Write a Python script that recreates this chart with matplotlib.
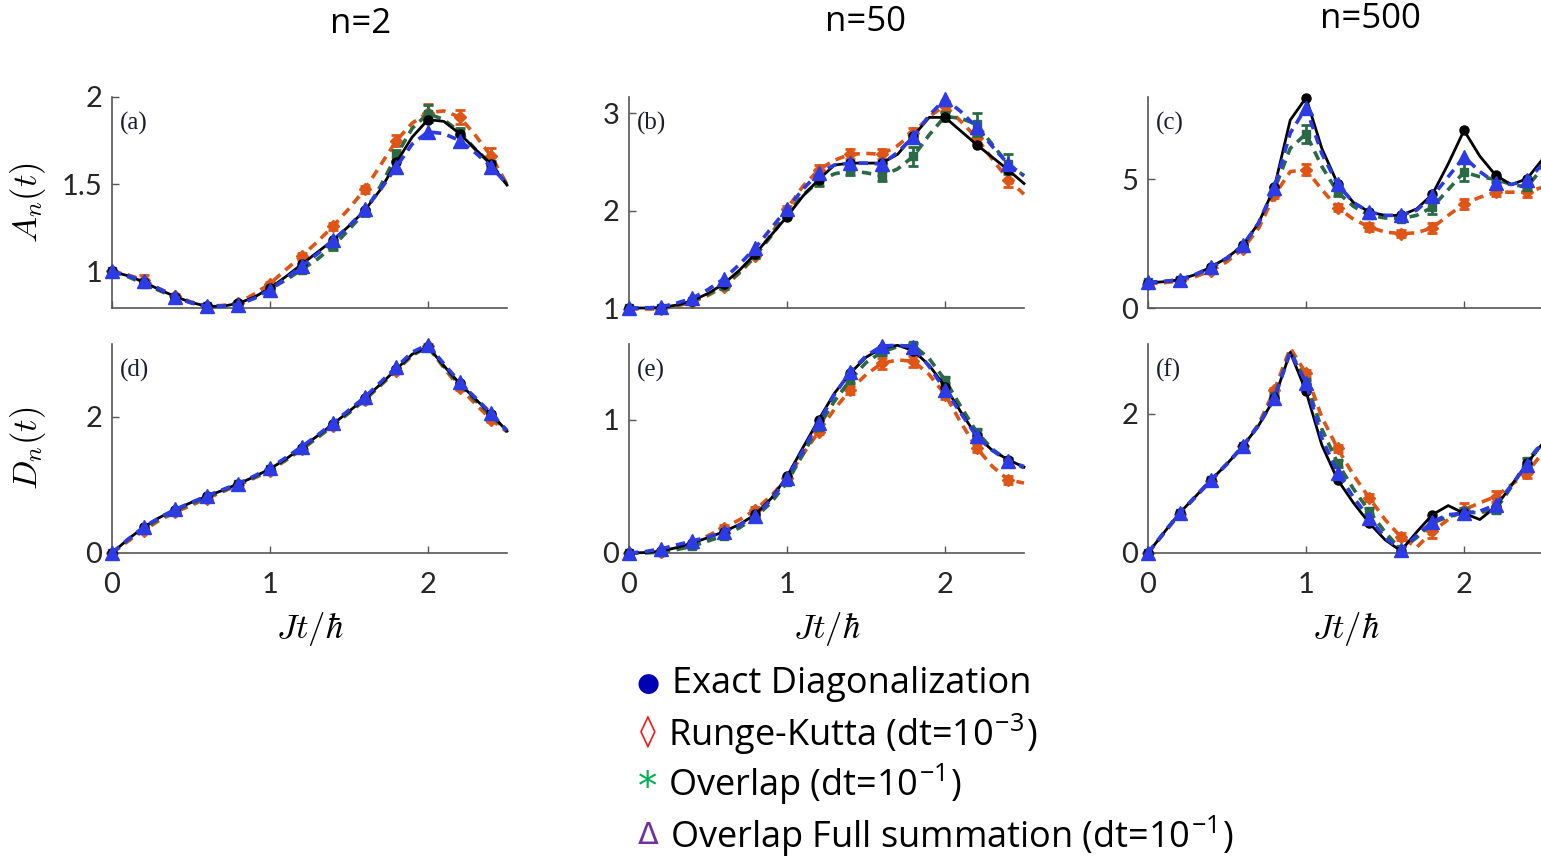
import matplotlib
matplotlib.use('Agg')
import matplotlib.pyplot as plt

plt.rcParams['font.family'] = ['Lato', 'DejaVu Sans']
plt.rcParams['mathtext.fontset'] = 'cm'

# time grid (Jt/hbar), markers are drawn on every second point
t = [0.0, 0.1, 0.2, 0.3, 0.4, 0.5, 0.6, 0.7, 0.8, 0.9, 1.0, 1.1, 1.2,
     1.3, 1.4, 1.5, 1.6, 1.7, 1.8, 1.9, 2.0, 2.1, 2.2, 2.3, 2.4, 2.5]

# ---- A_n(t), n=2 ----
a_exact = [1.0, 0.975, 0.94, 0.895, 0.856, 0.822, 0.80, 0.80, 0.817, 0.852, 0.904, 0.97, 1.04,
           1.11, 1.18, 1.26, 1.35, 1.47, 1.625, 1.77, 1.87, 1.86, 1.79, 1.70, 1.615, 1.495]
a_rk = [1.0, 0.98, 0.95, 0.90, 0.86, 0.825, 0.80, 0.805, 0.82, 0.87, 0.93, 1.01, 1.087,
        1.17, 1.26, 1.36, 1.47, 1.61, 1.75, 1.85, 1.91, 1.92, 1.885, 1.78, 1.66, 1.50]
a_ov = [1.0, 0.97, 0.93, 0.89, 0.85, 0.82, 0.80, 0.80, 0.815, 0.85, 0.90, 0.95, 1.01,
        1.07, 1.145, 1.24, 1.34, 1.49, 1.665, 1.82, 1.905, 1.87, 1.80, 1.70, 1.615, 1.50]
a_full = [1.0, 0.975, 0.945, 0.90, 0.855, 0.82, 0.80, 0.80, 0.81, 0.845, 0.895, 0.96, 1.03,
          1.10, 1.18, 1.26, 1.355, 1.47, 1.60, 1.73, 1.80, 1.79, 1.75, 1.68, 1.60, 1.50]
a_rk_err = [0.005, 0.03, 0.01, 0.01, 0.01, 0.01, 0.02, 0.02, 0.02, 0.03, 0.05, 0.04, 0.05]
a_ov_err = [0.005, 0.01, 0.01, 0.01, 0.01, 0.01, 0.01, 0.02, 0.02, 0.03, 0.05, 0.02, 0.02]

# ---- A_n(t), n=50 ----
b_exact = [1.0, 1.0, 1.005, 1.03, 1.075, 1.15, 1.25, 1.39, 1.56, 1.75, 1.94, 2.15, 2.32,
           2.47, 2.49, 2.49, 2.49, 2.58, 2.77, 2.96, 2.96, 2.82, 2.68, 2.55, 2.42, 2.28]
b_rk = [0.99, 0.99, 0.99, 1.02, 1.06, 1.13, 1.22, 1.36, 1.53, 1.76, 2.02, 2.25, 2.42,
        2.52, 2.58, 2.59, 2.58, 2.67, 2.80, 2.97, 3.08, 2.92, 2.75, 2.53, 2.32, 2.17]
b_ov = [1.0, 1.0, 1.0, 1.03, 1.07, 1.14, 1.23, 1.37, 1.54, 1.74, 1.97, 2.16, 2.30,
        2.38, 2.41, 2.39, 2.36, 2.43, 2.56, 2.78, 2.97, 2.95, 2.89, 2.68, 2.48, 2.36]
b_full = [1.0, 1.0, 1.01, 1.05, 1.10, 1.19, 1.30, 1.45, 1.62, 1.82, 2.02, 2.22, 2.39,
          2.47, 2.49, 2.49, 2.48, 2.60, 2.76, 2.98, 3.15, 3.02, 2.86, 2.66, 2.48, 2.36]
b_rk_err = [0.01, 0.01, 0.01, 0.02, 0.02, 0.03, 0.05, 0.05, 0.05, 0.05, 0.05, 0.05, 0.08]
b_ov_err = [0.01, 0.01, 0.01, 0.02, 0.03, 0.03, 0.05, 0.04, 0.05, 0.10, 0.05, 0.12, 0.10]

# ---- A_n(t), n=500 ----
c_exact = [0.98, 1.02, 1.1, 1.3, 1.6, 1.95, 2.44, 3.3, 4.7, 7.3, 8.17, 6.2, 4.83,
           4.1, 3.73, 3.6, 3.6, 3.85, 4.42, 5.6, 6.9, 5.9, 5.16, 4.79, 5.03, 5.8]
c_rk = [0.95, 0.98, 1.05, 1.22, 1.45, 1.8, 2.3, 3.1, 4.38, 5.3, 5.38, 4.6, 3.9,
        3.45, 3.15, 2.95, 2.89, 2.92, 3.12, 3.6, 4.05, 4.3, 4.5, 4.5, 4.5, 4.7]
c_ov = [1.0, 1.03, 1.1, 1.3, 1.55, 1.92, 2.4, 3.3, 4.6, 6.2, 6.77, 5.5, 4.5,
        3.95, 3.6, 3.5, 3.47, 3.6, 3.92, 4.6, 5.28, 5.1, 5.0, 4.8, 4.7, 5.48]
c_full = [1.0, 1.03, 1.1, 1.3, 1.6, 1.95, 2.44, 3.3, 4.68, 6.8, 7.78, 6.0, 4.8,
          4.1, 3.73, 3.6, 3.6, 3.8, 4.34, 5.1, 5.87, 5.3, 4.86, 4.8, 4.96, 5.6]
c_rk_err = [0.05, 0.05, 0.05, 0.05, 0.1, 0.2, 0.15, 0.15, 0.15, 0.2, 0.2, 0.15, 0.2]
c_ov_err = [0.05, 0.05, 0.05, 0.05, 0.1, 0.35, 0.15, 0.1, 0.1, 0.25, 0.35, 0.1, 0.1]

# ---- D_n(t), n=2 ----
d_exact = [0.0, 0.2, 0.377, 0.52, 0.637, 0.74, 0.833, 0.92, 1.015, 1.12, 1.235, 1.38, 1.544,
           1.72, 1.897, 2.08, 2.27, 2.48, 2.70, 2.92, 3.03, 2.75, 2.49, 2.26, 2.04, 1.79]
d_rk = [0.0, 0.17, 0.33, 0.48, 0.60, 0.70, 0.80, 0.90, 1.0, 1.10, 1.21, 1.36, 1.52,
        1.69, 1.87, 2.06, 2.25, 2.46, 2.68, 2.90, 3.04, 2.72, 2.43, 2.19, 1.96, 1.78]
d_ov = [0.0, 0.19, 0.36, 0.50, 0.62, 0.72, 0.82, 0.91, 1.01, 1.11, 1.23, 1.37, 1.53,
        1.70, 1.88, 2.06, 2.25, 2.47, 2.69, 2.91, 3.02, 2.74, 2.47, 2.24, 2.02, 1.79]
d_full = [0.0, 0.2, 0.38, 0.52, 0.64, 0.74, 0.84, 0.93, 1.02, 1.13, 1.25, 1.40, 1.56,
          1.73, 1.91, 2.10, 2.29, 2.51, 2.73, 2.95, 3.06, 2.78, 2.51, 2.28, 2.05, 1.80]
d_rk_err = [0.01, 0.02, 0.02, 0.02, 0.02, 0.02, 0.02, 0.02, 0.02, 0.03, 0.03, 0.03, 0.03]
d_ov_err = [0.01, 0.01, 0.01, 0.01, 0.01, 0.01, 0.01, 0.02, 0.02, 0.02, 0.02, 0.02, 0.02]

# ---- D_n(t), n=50 ----
e_exact = [0.0, 0.003, 0.013, 0.04, 0.075, 0.115, 0.16, 0.215, 0.29, 0.41, 0.575, 0.79, 1.0,
           1.2, 1.35, 1.47, 1.54, 1.56, 1.52, 1.41, 1.25, 1.06, 0.88, 0.77, 0.70, 0.645]
e_rk = [0.0, 0.003, 0.01, 0.04, 0.07, 0.13, 0.19, 0.25, 0.325, 0.43, 0.56, 0.74, 0.91,
        1.08, 1.225, 1.34, 1.425, 1.45, 1.44, 1.34, 1.19, 0.98, 0.79, 0.65, 0.55, 0.525]
e_ov = [0.0, 0.001, 0.005, 0.025, 0.05, 0.09, 0.13, 0.19, 0.27, 0.38, 0.53, 0.74, 0.95,
        1.14, 1.30, 1.43, 1.51, 1.55, 1.56, 1.46, 1.30, 1.10, 0.91, 0.78, 0.69, 0.64]
e_full = [0.0, 0.01, 0.03, 0.06, 0.09, 0.12, 0.16, 0.21, 0.28, 0.40, 0.56, 0.77, 0.98,
          1.19, 1.36, 1.48, 1.555, 1.56, 1.55, 1.40, 1.225, 1.05, 0.875, 0.77, 0.69, 0.65]
e_rk_err = [0.01, 0.01, 0.01, 0.02, 0.02, 0.02, 0.02, 0.03, 0.04, 0.04, 0.03, 0.03, 0.03]
e_ov_err = [0.01, 0.01, 0.01, 0.01, 0.01, 0.01, 0.02, 0.02, 0.02, 0.02, 0.02, 0.02, 0.02]

# ---- D_n(t), n=500 ----
f_exact = [0.0, 0.29, 0.574, 0.81, 1.05, 1.28, 1.53, 1.83, 2.22, 2.88, 2.32, 1.55, 1.05,
           0.72, 0.43, 0.19, 0.03, 0.30, 0.55, 0.68, 0.57, 0.48, 0.66, 0.97, 1.29, 1.58]
f_rk = [0.0, 0.28, 0.56, 0.80, 1.04, 1.28, 1.53, 1.85, 2.34, 2.94, 2.58, 1.95, 1.50,
        1.12, 0.79, 0.48, 0.23, 0.08, 0.31, 0.48, 0.62, 0.72, 0.81, 0.98, 1.15, 1.45]
f_ov = [0.0, 0.29, 0.57, 0.81, 1.05, 1.28, 1.53, 1.84, 2.25, 2.90, 2.45, 1.78, 1.29,
        0.92, 0.60, 0.30, 0.05, 0.22, 0.43, 0.52, 0.58, 0.58, 0.62, 0.95, 1.32, 1.60]
f_full = [0.0, 0.29, 0.574, 0.81, 1.05, 1.28, 1.53, 1.83, 2.22, 2.88, 2.44, 1.65, 1.15,
          0.80, 0.50, 0.22, 0.04, 0.25, 0.45, 0.55, 0.57, 0.60, 0.69, 0.97, 1.27, 1.60]
f_rk_err = [0.01, 0.02, 0.02, 0.02, 0.03, 0.05, 0.05, 0.05, 0.05, 0.10, 0.10, 0.08, 0.08]
f_ov_err = [0.01, 0.02, 0.02, 0.02, 0.02, 0.03, 0.05, 0.04, 0.05, 0.06, 0.06, 0.05, 0.05]

titles = ['n=2', 'n=50', 'n=500']
panel_labels = ['(a)', '(b)', '(c)', '(d)', '(e)', '(f)']
ylims = [(0.79, 2.0), (1.0, 3.17), (0.0, 8.2), (0.0, 3.07), (0.0, 1.57), (0.0, 3.0)]
yticks = [[1, 1.5, 2], [1, 2, 3], [0, 5], [0, 2], [0, 1], [0, 2]]
xticks = [0, 1, 2]

ORANGE = '#DE5516'
GREEN = '#2A6A45'
BLUE = '#2C3BE6'
AXC = '#555555'

panels = [
    (a_exact, a_rk, a_rk_err, a_ov, a_ov_err, a_full),
    (b_exact, b_rk, b_rk_err, b_ov, b_ov_err, b_full),
    (c_exact, c_rk, c_rk_err, c_ov, c_ov_err, c_full),
    (d_exact, d_rk, d_rk_err, d_ov, d_ov_err, d_full),
    (e_exact, e_rk, e_rk_err, e_ov, e_ov_err, e_full),
    (f_exact, f_rk, f_rk_err, f_ov, f_ov_err, f_full),
]

fig = plt.figure(figsize=(15.41, 8.58), dpi=100)

lefts = [0.0727, 0.4082, 0.745]
bottoms = [0.641, 0.3555]
heights = [0.246, 0.2436]
width = 0.2563

dash = (0, (2.6, 1.8))
for i, (exact, rk, rk_err, ov, ov_err, full) in enumerate(panels):
    row, col = divmod(i, 3)
    ax = fig.add_axes([lefts[col], bottoms[row], width, heights[row]])
    tm = t[::2][:13]

    ax.plot(t, rk, ls=dash, color=ORANGE, lw=2.6, zorder=2, clip_on=False)
    ax.errorbar(tm, rk[::2][:13], yerr=rk_err, fmt='D', ms=6.5, color=ORANGE,
                elinewidth=2, capsize=3.5, capthick=2, zorder=2, clip_on=False)
    ax.plot(t, ov, ls=dash, color=GREEN, lw=2.6, zorder=3, clip_on=False)
    ax.errorbar(tm, ov[::2][:13], yerr=ov_err, fmt='s', ms=5.5, color=GREEN,
                elinewidth=2, capsize=3.5, capthick=2, zorder=3, clip_on=False)
    ax.plot(t, exact, color='black', lw=2, zorder=4, clip_on=False)
    ax.plot(tm, exact[::2][:13], 'o', color='black', ms=6.5, zorder=4, clip_on=False)
    ax.plot(t, full, ls=dash, color=BLUE, lw=2.6, zorder=5, clip_on=False)
    ax.plot(tm, full[::2][:13], '^', color=BLUE, ms=10, zorder=5, clip_on=False)

    ax.set_xlim(0, 2.5)
    ax.set_ylim(*ylims[i])
    ax.set_xticks(xticks)
    ax.set_yticks(yticks[i])
    ax.set_yticklabels([('%g' % v) for v in yticks[i]])
    ax.spines['top'].set_visible(False)
    ax.spines['right'].set_visible(False)
    for s in ['left', 'bottom']:
        ax.spines[s].set_color(AXC)
        ax.spines[s].set_linewidth(1.2)
    ax.tick_params(direction='in', length=5, width=1, color=AXC,
                   labelsize=21, labelcolor='#262626')
    ax.tick_params(axis='y', pad=7)
    ax.tick_params(axis='x', pad=14)
    if row == 0:
        ax.set_xticklabels([])
    else:
        ax.set_xlabel(r'$Jt/\hbar$', fontsize=25, labelpad=8)
    if col == 0:
        ax.set_ylabel([r'$A_n(t)$', r'$D_n(t)$'][row], fontsize=25)
        ax.yaxis.set_label_coords(-0.163, 0.5)
    ax.text(0.02, 0.875, panel_labels[i], transform=ax.transAxes, ha='left',
            va='center', fontsize=18, family='Liberation Serif', color='#1c1c30')

title_x = [361, 865, 1370]
title_y = [24, 22, 19]
for txt, x, y in zip(titles, title_x, title_y):
    fig.text(x / 1541, 1 - y / 858, txt, ha='center', va='center', fontsize=25,
             family=['Open Sans', 'DejaVu Sans'])

# legend written as text lines below the panels
leg_y = [684, 734, 784, 836]
leg_sym = ['●', '◊', '*', 'Δ']
leg_col = ['#0000B4', '#FF1010', '#00B050', '#7030A0']
leg_size = [19, 23, 28, 22]
leg_sym_y = [684, 732, 788, 836]
leg_txt = ['Exact Diagonalization',
           r'Runge-Kutta (dt=10$^{\mathregular{-3}}$)',
           r'Overlap (dt=10$^{\mathregular{-1}}$)',
           r'Overlap Full summation (dt=10$^{\mathregular{-1}}$)']
leg_x = [672, 668, 668, 670]
for y, sy, s, c, fs, txt, x in zip(leg_y, leg_sym_y, leg_sym, leg_col, leg_size, leg_txt, leg_x):
    fig.text(648 / 1541, 1 - sy / 858, s, color=c, fontsize=fs, ha='center', va='center',
             family=['DejaVu Sans'])
    fig.text(x / 1541, 1 - y / 858, txt, color='black', fontsize=26, ha='left', va='center',
             family=['Open Sans', 'DejaVu Sans'])

fig.savefig('out.png', dpi=100)
